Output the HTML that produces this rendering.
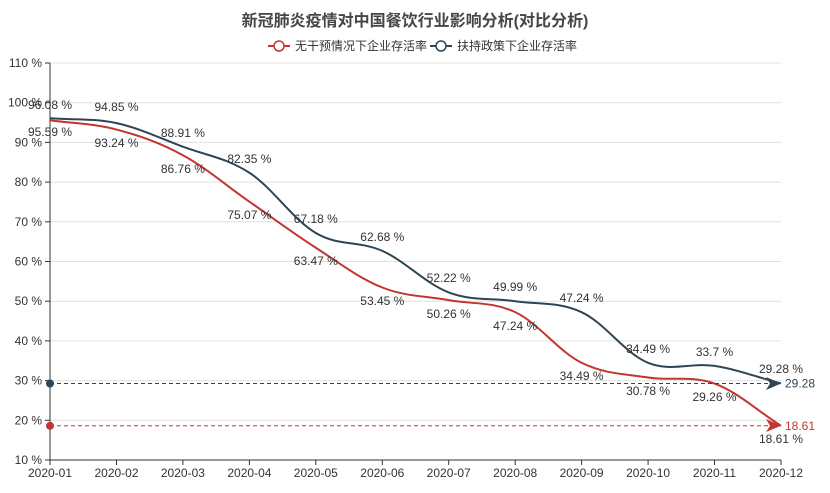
<!DOCTYPE html><html><head><meta charset="utf-8"><style>body{margin:0;background:#fff}svg{display:block;font-family:"Liberation Sans","Noto Sans CJK SC",sans-serif}</style></head><body>
<svg width="830" height="493" xmlns="http://www.w3.org/2000/svg">
<text x="415" y="26" text-anchor="middle" font-size="16" font-weight="bold" fill="#464646">新冠肺炎疫情对中国餐饮行业影响分析(对比分析)</text>
<g font-size="12" fill="#333">
<line x1="268" y1="46" x2="290" y2="46" stroke="#c23531" stroke-width="2"/><circle cx="279" cy="46" r="5" fill="#fff" stroke="#c23531" stroke-width="1.5"/><text x="295" y="50">无干预情况下企业存活率</text>
<line x1="430" y1="46" x2="452" y2="46" stroke="#2f4554" stroke-width="2"/><circle cx="441" cy="46" r="5" fill="#fff" stroke="#2f4554" stroke-width="1.5"/><text x="457" y="50">扶持政策下企业存活率</text>
</g>
<g stroke="#e0e0e0" stroke-width="1">
<line x1="50" x2="781" y1="63" y2="63"/><line x1="50" x2="781" y1="102.7" y2="102.7"/><line x1="50" x2="781" y1="142.4" y2="142.4"/><line x1="50" x2="781" y1="182.1" y2="182.1"/><line x1="50" x2="781" y1="221.8" y2="221.8"/><line x1="50" x2="781" y1="261.5" y2="261.5"/><line x1="50" x2="781" y1="301.2" y2="301.2"/><line x1="50" x2="781" y1="340.9" y2="340.9"/><line x1="50" x2="781" y1="380.6" y2="380.6"/><line x1="50" x2="781" y1="420.3" y2="420.3"/>
</g>
<g stroke="#333" stroke-width="1"><line x1="50" y1="63" x2="50" y2="460"/><line x1="50" y1="460" x2="781" y2="460"/>
<line x1="45" x2="50" y1="63" y2="63"/><line x1="45" x2="50" y1="102.7" y2="102.7"/><line x1="45" x2="50" y1="142.4" y2="142.4"/><line x1="45" x2="50" y1="182.1" y2="182.1"/><line x1="45" x2="50" y1="221.8" y2="221.8"/><line x1="45" x2="50" y1="261.5" y2="261.5"/><line x1="45" x2="50" y1="301.2" y2="301.2"/><line x1="45" x2="50" y1="340.9" y2="340.9"/><line x1="45" x2="50" y1="380.6" y2="380.6"/><line x1="45" x2="50" y1="420.3" y2="420.3"/><line x1="45" x2="50" y1="460" y2="460"/>
<line x1="50" x2="50" y1="460" y2="465"/><line x1="116.5" x2="116.5" y1="460" y2="465"/><line x1="182.9" x2="182.9" y1="460" y2="465"/><line x1="249.4" x2="249.4" y1="460" y2="465"/><line x1="315.8" x2="315.8" y1="460" y2="465"/><line x1="382.3" x2="382.3" y1="460" y2="465"/><line x1="448.7" x2="448.7" y1="460" y2="465"/><line x1="515.2" x2="515.2" y1="460" y2="465"/><line x1="581.6" x2="581.6" y1="460" y2="465"/><line x1="648.1" x2="648.1" y1="460" y2="465"/><line x1="714.5" x2="714.5" y1="460" y2="465"/><line x1="781" x2="781" y1="460" y2="465"/></g>
<g font-size="12" fill="#333" text-anchor="end">
<text x="42" y="67">110 %</text><text x="42" y="106.7">100 %</text><text x="42" y="146.4">90 %</text><text x="42" y="186.1">80 %</text><text x="42" y="225.8">70 %</text><text x="42" y="265.5">60 %</text><text x="42" y="305.2">50 %</text><text x="42" y="344.9">40 %</text><text x="42" y="384.6">30 %</text><text x="42" y="424.3">20 %</text><text x="42" y="464">10 %</text>
</g>
<g font-size="12" fill="#333" text-anchor="middle">
<text x="50" y="477">2020-01</text><text x="116.5" y="477">2020-02</text><text x="182.9" y="477">2020-03</text><text x="249.4" y="477">2020-04</text><text x="315.8" y="477">2020-05</text><text x="382.3" y="477">2020-06</text><text x="448.7" y="477">2020-07</text><text x="515.2" y="477">2020-08</text><text x="581.6" y="477">2020-09</text><text x="648.1" y="477">2020-10</text><text x="714.5" y="477">2020-11</text><text x="781" y="477">2020-12</text>
</g>
<path id="red" fill="none" stroke="#c23531" stroke-width="2"/>
<path id="blue" fill="none" stroke="#2f4554" stroke-width="2"/>
<line x1="50" y1="383.5" x2="775" y2="383.5" stroke="#2f4554" stroke-dasharray="4,3"/>
<line x1="50" y1="425.8" x2="775" y2="425.8" stroke="#c23531" stroke-dasharray="4,3"/>
<circle cx="50" cy="383.5" r="4" fill="#2f4554"/><circle cx="50" cy="425.8" r="4" fill="#c23531"/>
<path d="M781 383.5 L766 377 L770 383.5 L766 390 Z" fill="#2f4554"/>
<path d="M781 425.8 L766 419 L770 425.8 L766 432 Z" fill="#c23531"/>
<text x="785" y="387.5" font-size="12" fill="#2f4554">29.28</text>
<text x="785" y="429.8" font-size="12" fill="#c23531">18.61</text>
<g id="pts"></g>
<g font-size="12" fill="#333" text-anchor="middle">
<text x="50" y="109">96.08 %</text><text x="116.5" y="111">94.85 %</text><text x="182.9" y="137">88.91 %</text><text x="249.4" y="163">82.35 %</text><text x="315.8" y="223">67.18 %</text><text x="382.3" y="241">62.68 %</text><text x="448.7" y="282">52.22 %</text><text x="515.2" y="291">49.99 %</text><text x="581.6" y="302">47.24 %</text><text x="648.1" y="353">34.49 %</text><text x="714.5" y="356">33.7 %</text><text x="781" y="373">29.28 %</text>
<text x="50" y="136">95.59 %</text><text x="116.5" y="147">93.24 %</text><text x="182.9" y="173">86.76 %</text><text x="249.4" y="219">75.07 %</text><text x="315.8" y="265">63.47 %</text><text x="382.3" y="305">53.45 %</text><text x="448.7" y="318">50.26 %</text><text x="515.2" y="330">47.24 %</text><text x="581.6" y="380">34.49 %</text><text x="648.1" y="395">30.78 %</text><text x="714.5" y="401">29.26 %</text><text x="781" y="443">18.61 %</text>
</g>
<script>
var X=[50,116.5,182.9,249.4,315.8,382.3,448.7,515.2,581.6,648.1,714.5,781];
function y(v){return 460-(v-10)*3.97}
var R=[95.59,93.24,86.76,75.07,63.47,53.45,50.26,47.24,34.49,30.78,29.26,18.61].map(y);
var B=[96.08,94.85,88.91,82.35,67.18,62.68,52.22,49.99,47.24,34.49,33.7,29.28].map(y);
function path(Y){var d="M"+X[0]+" "+Y[0],s=0.35;for(var i=0;i<11;i++){var p0=i?i-1:i,p3=i+2<12?i+2:i+1;
var c1x=X[i]+(X[i+1]-X[p0])*s/ (i?2:1)*1,c1y=Y[i]+(Y[i+1]-Y[p0])*s/(i?2:1);
var c2x=X[i+1]-(X[p3]-X[i])*s/(p3==i+1?1:2),c2y=Y[i+1]-(Y[p3]-Y[i])*s/(p3==i+1?1:2);
d+=" C"+c1x+" "+c1y+" "+c2x+" "+c2y+" "+X[i+1]+" "+Y[i+1];}return d}
document.getElementById("red").setAttribute("d",path(R));
document.getElementById("blue").setAttribute("d",path(B));
var g=document.getElementById("pts"),h="";
for(var i=0;i<12;i++){h+='<circle cx="'+X[i]+'" cy="'+R[i]+'" r="2" fill="#fff" stroke="#c23531"/>';h+='<circle cx="'+X[i]+'" cy="'+B[i]+'" r="2" fill="#fff" stroke="#2f4554"/>';}
g.innerHTML=h;
</script>
</svg></body></html>
